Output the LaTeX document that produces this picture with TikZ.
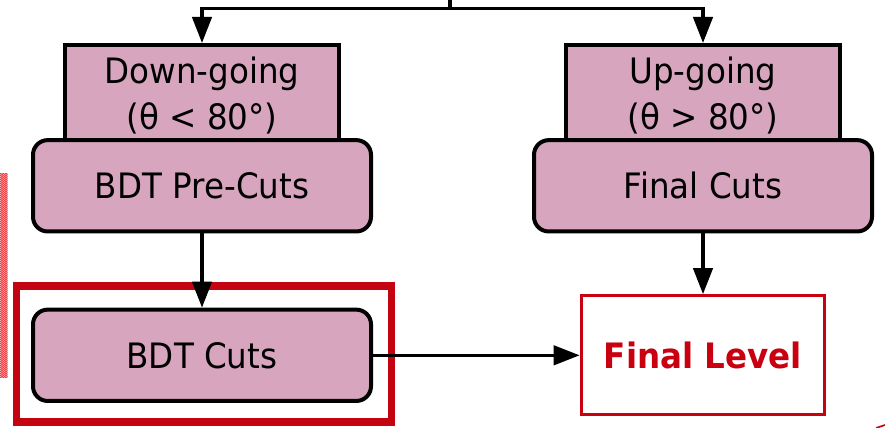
\documentclass[tikz,border=0pt]{standalone}
\usepackage{fontspec}
\setmainfont{DejaVu Sans}[FakeStretch=0.93]
\usetikzlibrary{arrows.meta}
\definecolor{boxpink}{RGB}{216,165,191}
\definecolor{framered}{RGB}{196,4,16}
\definecolor{levelred}{RGB}{200,0,16}
\definecolor{hatchred}{RGB}{236,56,60}

\begin{document}
\begin{tikzpicture}[x=0.75pt,y=0.75pt,yscale=-1,xscale=1,
    font=\fontsize{26.25}{34.5}\selectfont,
    selbox/.style={draw=black,fill=boxpink,line width=3pt,align=center,minimum width=205.5pt,inner ysep=8.8pt,anchor=north},
    cutbox/.style={draw=black,fill=boxpink,line width=3pt,rounded corners=11pt,minimum width=253.5pt,minimum height=68.5pt},
    levelbox/.style={draw=levelred,line width=2.5pt,minimum width=182.5pt,minimum height=89.25pt,text=levelred,font=\fontsize{26.25}{34.5}\selectfont\bfseries},
    focusbox/.style={draw=framered,line width=5.6pt,minimum width=281.25pt,minimum height=102pt},
    flow/.style={line width=2.5pt,-{Triangle[length=19.5pt,width=14.5pt]}}
]
    \useasboundingbox (0,0) rectangle (885,428);
    
    %Shape: Hatch [left edge]
    \begin{scope}
    \clip (0,173) rectangle (7.5,377);
    \foreach \k in {0,...,110} \draw[hatchred,line width=0.8pt] (0,170+2*\k) -- (8,164+2*\k);
    \end{scope}
    %Straight Lines [corner mark]
    \draw[framered,line width=1.2pt] (876,428) -- (885,425);
    
    %Shape: Rectangle [red frame]
    \node[focusbox] (focus) at (204.2,354) {};
    
    %Shape: Rectangle [selections]
    \node[selbox] (down) at (202,43) {Down-going\\(θ < 80°)};
    \node[selbox] (up) at (703,43) {Up-going\\(θ > 80°)};
    
    %Shape: Rounded Rect [cuts]
    \node[cutbox] (precuts) at (202,185.8) {BDT Pre-Cuts};
    \node[cutbox] (finalcuts) at (703,185.8) {Final Cuts};
    \node[cutbox] (bdtcuts) at (202,355.3) {BDT Cuts};
    
    %Shape: Rectangle [final level]
    \node[levelbox] (finallevel) at (703,355.3) {Final Level};
    
    %Straight Lines [split]
    \coordinate (source) at (450,0);
    \coordinate (split) at (450,8.3);
    \draw[line width=2.5pt] (source) -- (split);
    \draw[flow] (split) -| (down.north);
    \draw[flow] (split) -| (up.north);
    
    %Straight Lines [chain]
    \draw[flow] (precuts) -- (bdtcuts);
    \draw[flow] (bdtcuts) -- (finallevel);
    \draw[flow] (finalcuts) -- (finallevel);
    
\end{tikzpicture}
\end{document}
